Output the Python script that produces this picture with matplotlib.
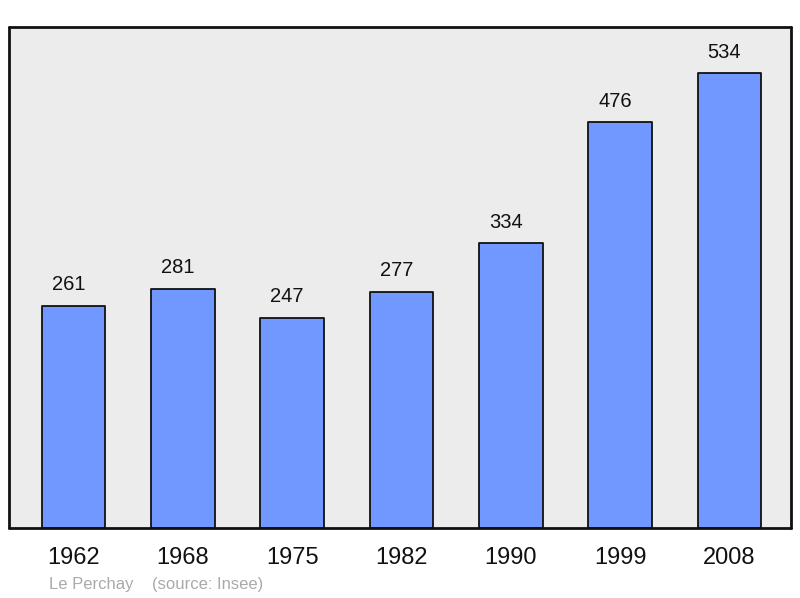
import matplotlib
matplotlib.use("Agg")
import matplotlib.pyplot as plt

years = ["1962", "1968", "1975", "1982", "1990", "1999", "2008"]
population = [261, 281, 247, 277, 334, 476, 534]
commune = "Le Perchay"
source = "(source: Insee)"

plt.rcParams['font.family'] = ['Liberation Sans', 'DejaVu Sans']

W, H = 800, 598
fig = plt.figure(figsize=(W / 100, H / 100), dpi=100)
ax = fig.add_axes([9 / W, (H - 528) / H, 782 / W, 501 / H])
ax.set_facecolor("#ececec")

x = list(range(len(years)))
bars = ax.bar(x, population, width=0.58, color="#7098ff", edgecolor="#111111",
              linewidth=1.3, zorder=2)
for b in bars:
    b.set_joinstyle("round")
for xi, v in zip(x, population):
    ax.annotate(str(v), xy=(xi, v), xytext=(-5, 21), textcoords="offset pixels",
                ha="center", va="center", fontsize=14.5, color="#111111")

ax.set_xlim(-0.59, 6.5625)
ax.set_ylim(0, 588)
ax.set_yticks([])
ax.set_xticks(x)
ax.set_xticklabels(years, fontsize=17, color="#111111")
ax.tick_params(axis="x", length=0, pad=14)
for s in ax.spines.values():
    s.set_linewidth(2)
    s.set_color("#111111")
    s.set_capstyle("round")
    s.set_joinstyle("round")

fig.text(49 / W, 1 - 584 / H, commune + "    " + source, fontsize=12,
         color="#aaaaaa", ha="left", va="center")

fig.savefig("out.png", dpi=100)
